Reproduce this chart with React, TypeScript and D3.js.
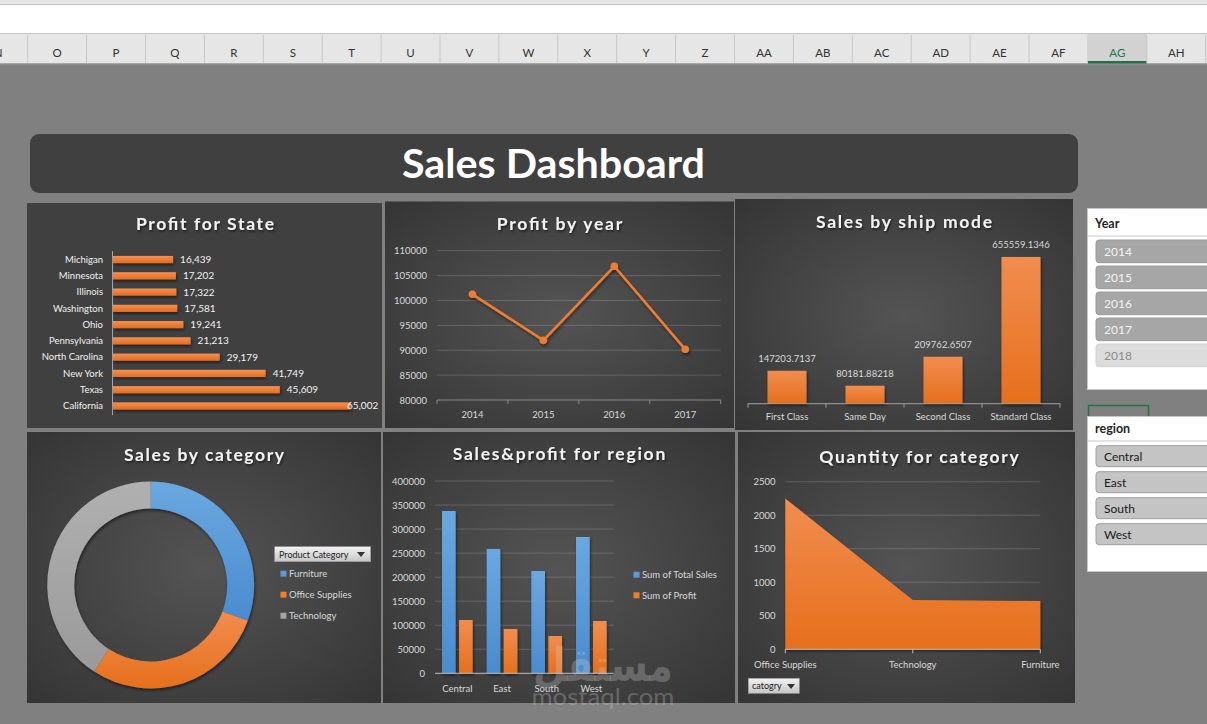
import React from 'react';
import * as d3 from 'd3';

// ---------- data ----------
const columnLetters = ['N','O','P','Q','R','S','T','U','V','W','X','Y','Z','AA','AB','AC','AD','AE','AF','AG','AH'];
const selectedColumn = 'AG';

const states = ['Michigan','Minnesota','Illinois','Washington','Ohio','Pennsylvania','North Carolina','New York','Texas','California'];
const stateProfit = [16439, 17202, 17322, 17581, 19241, 21213, 29179, 41749, 45609, 65002];

const years = ['2014','2015','2016','2017'];
const yearProfit = [101240, 91990, 106870, 90190];
const yearTicks = [80000, 85000, 90000, 95000, 100000, 105000, 110000];

const shipModes = ['First Class','Same Day','Second Class','Standard Class'];
const shipSales = [147203.7137, 80181.88218, 209762.6507, 655559.1346];

const categories = ['Furniture','Office Supplies','Technology'];
const categorySales = [334400, 312500, 445800];

const regions = ['Central','East','South','West'];
const regionSales = [337600, 258600, 212800, 283500];
const regionProfit = [110900, 92200, 77600, 108800];
const regionTicks = [0, 50000, 100000, 150000, 200000, 250000, 300000, 350000, 400000];
const regionSeries = ['Sum of Total Sales','Sum of Profit'];

const qtyCategories = ['Office Supplies','Technology','Furniture'];
const qtyValues = [2250, 735, 720];
const qtyTicks = [0, 500, 1000, 1500, 2000, 2500];

const yearSlicer = ['2014','2015','2016','2017','2018'];
const yearSlicerActive = [true, true, true, true, false];

// ---------- styles ----------
const FONT = 'Lato, "Open Sans", sans-serif';
const AX = '#d9d9d9';
const GRID = 'rgba(255,255,255,0.17)';
const ORANGE = '#ED7D31';
const BLUE = '#5B9BD5';
const GRAY = '#A5A5A5';

function Title({ x, y, text, len, size = 17.5 }: { x: number; y: number; text: string; len: number; size?: number }) {
  return (
    <text x={x} y={y} textAnchor="middle" fontFamily={FONT} fontWeight={700} fontSize={size}
      fill="#f2f2f2" textLength={len} lengthAdjust="spacing" filter="url(#tshadow)">{text}</text>
  );
}

function Panel({ x, y, w, h, flat }: { x: number; y: number; w: number; h: number; flat?: boolean }) {
  return <rect x={x} y={y} width={w} height={h} fill={flat ? '#404040' : 'url(#pbg)'} />;
}

export default function App() {
  // Panel 1: Profit for State
  const p1x = d3.scaleLinear().domain([0, 70000]).range([113, 369]);
  const p1y = d3.scaleBand().domain(states).range([251.4, 414.1]);

  // Panel 2: Profit by year
  const p2x = d3.scaleBand().domain(years).range([437, 720.7]);
  const p2y = d3.scaleLinear().domain([80000, 110000]).range([400, 250.7]);
  const p2line = d3.line<number>().x((_, i) => (p2x(years[i]) as number) + p2x.bandwidth() / 2).y(d => p2y(d));
  const p2edges = [...years.map(y => p2x(y) as number), 720.7];

  // Panel 3: Sales by ship mode
  const p3x = d3.scaleBand().domain(shipModes).range([748, 1060]);
  const p3y = d3.scaleLinear().domain([0, 700000]).range([403.7, 247]);
  const p3edges = [...shipModes.map(m => p3x(m) as number), 1060];
  const p3bw = p3x.bandwidth() * 0.5;

  // Panel 4: donut
  const cx4 = 150.7, cy4 = 585;
  const pie = d3.pie<number>().sort(null).value(d => d)(categorySales);
  const arc = d3.arc<d3.PieArcDatum<number>>().innerRadius(76.5).outerRadius(103.4);
  const catColors = [BLUE, ORANGE, GRAY];
  const catGrads = ['url(#gBlue)', 'url(#gOrange)', 'url(#gGray)'];

  // Panel 5: Sales & profit for region
  const p5x = d3.scaleBand().domain(regions).range([435, 613.7]);
  const p5in = d3.scaleBand().domain(['sales', 'profit']).range([7, p5x.bandwidth() - 7]).paddingInner(0.2);
  const p5y = d3.scaleLinear().domain([0, 400000]).range([673.3, 481]);

  // Panel 6: Quantity for category
  const p6x = d3.scalePoint().domain(qtyCategories).range([785.3, 1040.3]);
  const p6y = d3.scaleLinear().domain([0, 2500]).range([649.3, 481.7]);
  const p6area = d3.area<number>().x((_, i) => p6x(qtyCategories[i]) as number).y0(p6y(0)).y1(d => p6y(d));

  const colW = 58.9, colStart = -1.75;

  return (
    <svg width={1207} height={724} style={{ position: 'absolute', left: 0, top: 0, display: 'block' }}>
      <defs>
        <radialGradient id="pbg" cx="50%" cy="50%" r="70%">
          <stop offset="0%" stopColor="#545454" />
          <stop offset="100%" stopColor="#353535" />
        </radialGradient>
        <linearGradient id="gOrange" x1="0" y1="0" x2="0" y2="1">
          <stop offset="0%" stopColor="#F18D50" />
          <stop offset="100%" stopColor="#E66F1C" />
        </linearGradient>
        <linearGradient id="gOrangeH" x1="0" y1="0" x2="0" y2="1">
          <stop offset="0%" stopColor="#F39056" />
          <stop offset="100%" stopColor="#E56C1A" />
        </linearGradient>
        <linearGradient id="gBlue" x1="0" y1="0" x2="0" y2="1">
          <stop offset="0%" stopColor="#6AA8E0" />
          <stop offset="100%" stopColor="#4A8BCF" />
        </linearGradient>
        <linearGradient id="gGray" x1="0" y1="0" x2="0" y2="1">
          <stop offset="0%" stopColor="#B0B0B0" />
          <stop offset="100%" stopColor="#9A9A9A" />
        </linearGradient>
        <linearGradient id="gBtn" x1="0" y1="0" x2="0" y2="1">
          <stop offset="0%" stopColor="#f2f2f2" />
          <stop offset="100%" stopColor="#c6c6c6" />
        </linearGradient>
        <filter id="tshadow" x="-10%" y="-30%" width="120%" height="160%">
          <feDropShadow dx="1" dy="1.5" stdDeviation="1" floodColor="#000" floodOpacity="0.6" />
        </filter>
        <filter id="mshadow" x="-20%" y="-20%" width="140%" height="160%">
          <feDropShadow dx="1" dy="2" stdDeviation="1.5" floodColor="#000" floodOpacity="0.5" />
        </filter>
      </defs>

      {/* Spreadsheet chrome */}
      <rect x={0} y={0} width={1207} height={724} fill="#808080" />
      <rect x={0} y={0} width={1207} height={5} fill="#e6e6e6" />
      <rect x={0} y={5} width={1207} height={28} fill="#ffffff" />
      <line x1={0} x2={1207} y1={4.5} y2={4.5} stroke="#c4c4c4" />
      <line x1={0} x2={1207} y1={33.5} y2={33.5} stroke="#c4c4c4" />
      <rect x={0} y={34} width={1207} height={29.5} fill="#e6e6e6" />
      {columnLetters.map((c, i) => {
        const cx = colStart + colW * i;
        return (
          <g key={c}>
            {c === selectedColumn && <rect x={cx - colW / 2} y={34} width={colW} height={29.5} fill="#d2d2d2" />}
            {c === selectedColumn && <rect x={cx - colW / 2} y={61} width={colW} height={3} fill="#217346" />}
            <line x1={cx + colW / 2} x2={cx + colW / 2} y1={35} y2={63} stroke="#c6c6c6" />
            <text x={cx} y={57} textAnchor="middle" fontFamily={FONT} fontSize={11.5} fill={c === selectedColumn ? '#217346' : '#333'}>{c}</text>
          </g>
        );
      })}
      <line x1={0} x2={1207} y1={64} y2={64} stroke="#9a9a9a" />

      {/* Title bar */}
      <rect x={30} y={134} width={1048} height={59} rx={9} fill="#404040" />
      <text x={553.5} y={178} textAnchor="middle" fontFamily={FONT} fontWeight={700} fontSize={41}
        fill="#ffffff" textLength={303} lengthAdjust="spacingAndGlyphs">Sales Dashboard</text>

      {/* Panel 1: Profit for State */}
      <Panel x={27} y={203} w={355} h={225} flat />
      <Title x={205} y={230} text="Profit for State" len={138} />
      <line x1={112.5} x2={112.5} y1={251} y2={415} stroke="#a6a6a6" />
      {states.map((s, i) => {
        const cy = (p1y(s) as number) + p1y.bandwidth() / 2;
        const v = stateProfit[i];
        return (
          <g key={s}>
            <rect x={113} y={cy - 3.6} width={p1x(v) - 113} height={7.2} fill="url(#gOrangeH)" filter="url(#mshadow)" />
            <text x={103} y={cy + 3.3} textAnchor="end" fontFamily={FONT} fontSize={9.5} fill="#f2f2f2">{s}</text>
            <text x={Math.min(p1x(v) + 7, 347)} y={cy + 3.5} fontFamily={FONT} fontSize={10} fill="#f2f2f2">{d3.format(',')(v)}</text>
          </g>
        );
      })}

      {/* Panel 2: Profit by year */}
      <Panel x={385} y={201.5} w={349} h={226.5} />
      <Title x={559.5} y={230} text="Profit by year" len={125.6} />
      {yearTicks.map(t => (
        <g key={t}>
          {t !== 80000 && <line x1={437} x2={720.7} y1={p2y(t)} y2={p2y(t)} stroke={GRID} />}
          <text x={427} y={p2y(t) + 3.5} textAnchor="end" fontFamily={FONT} fontSize={9.5} fill={AX}>{t}</text>
        </g>
      ))}
      <line x1={437} x2={720.7} y1={400} y2={400} stroke="#8c8c8c" />
      {p2edges.map((e, i) => <line key={i} x1={e} x2={e} y1={400} y2={404} stroke="#8c8c8c" />)}
      {years.map(y => (
        <text key={y} x={(p2x(y) as number) + p2x.bandwidth() / 2} y={418} textAnchor="middle" fontFamily={FONT} fontSize={9.5} fill={AX}>{y}</text>
      ))}
      <g filter="url(#mshadow)">
        <path d={p2line(yearProfit) as string} fill="none" stroke={ORANGE} strokeWidth={2.6} strokeLinejoin="round" />
        {yearProfit.map((v, i) => (
          <circle key={i} cx={(p2x(years[i]) as number) + p2x.bandwidth() / 2} cy={p2y(v)} r={3.8} fill={ORANGE} />
        ))}
      </g>

      {/* Panel 3: Sales by ship mode */}
      <Panel x={735} y={199} w={338} h={231} />
      <Title x={904} y={227.5} text="Sales by ship mode" len={176} />
      {shipModes.map((m, i) => {
        const cx = (p3x(m) as number) + p3x.bandwidth() / 2;
        const v = shipSales[i];
        return (
          <g key={m}>
            <rect x={cx - p3bw / 2} y={p3y(v)} width={p3bw} height={p3y(0) - p3y(v)} fill="url(#gOrange)" filter="url(#mshadow)" />
            <text x={cx} y={p3y(v) - 9} textAnchor="middle" fontFamily={FONT} fontSize={9.5} fill={AX}>{String(v)}</text>
            <text x={cx} y={420} textAnchor="middle" fontFamily={FONT} fontSize={9.5} fill={AX}>{m}</text>
          </g>
        );
      })}
      <line x1={748} x2={1060} y1={403.7} y2={403.7} stroke="#a0a0a0" />
      {p3edges.map((e, i) => <line key={i} x1={e} x2={e} y1={403.7} y2={407.7} stroke="#a0a0a0" />)}

      {/* Panel 4: Sales by category */}
      <Panel x={27} y={432} w={354} h={271} />
      <Title x={204} y={460.5} text="Sales by category" len={160} />
      <g transform={`translate(${cx4},${cy4})`} filter="url(#mshadow)">
        {pie.map((p, i) => (
          <path key={categories[i]} d={arc(p) as string} fill={catGrads[i]} />
        ))}
      </g>
      <rect x={274.7} y={546.7} width={96} height={15} fill="url(#gBtn)" stroke="#9a9a9a" strokeWidth={0.6} />
      <text x={279} y={557.5} fontFamily={FONT} fontSize={9} fill="#222">Product Category</text>
      <path d="M357,552 L365,552 L361,557 Z" fill="#333" />
      {categories.map((c, i) => (
        <g key={c}>
          <rect x={280.5} y={570.7 + i * 21} width={6} height={6} fill={catColors[i]} />
          <text x={289} y={577.3 + i * 21} fontFamily={FONT} fontSize={9.5} fill={AX}>{c}</text>
        </g>
      ))}

      {/* Panel 5: Sales & profit for region */}
      <Panel x={383} y={432} w={352} h={271} />
      <Title x={559} y={460} text="Sales&profit for region" len={212.6} />
      {regionTicks.map(t => (
        <g key={t}>
          {t !== 0 && <line x1={435} x2={613.7} y1={p5y(t)} y2={p5y(t)} stroke={GRID} />}
          <text x={425} y={p5y(t) + 3.5} textAnchor="end" fontFamily={FONT} fontSize={9.5} fill={AX}>{t}</text>
        </g>
      ))}
      {regions.map((r, i) => {
        const bx = p5x(r) as number;
        return (
          <g key={r}>
            <rect x={bx + (p5in('sales') as number)} y={p5y(regionSales[i])} width={p5in.bandwidth()} height={p5y(0) - p5y(regionSales[i])} fill="url(#gBlue)" filter="url(#mshadow)" />
            <rect x={bx + (p5in('profit') as number)} y={p5y(regionProfit[i])} width={p5in.bandwidth()} height={p5y(0) - p5y(regionProfit[i])} fill="url(#gOrange)" filter="url(#mshadow)" />
            <text x={bx + p5x.bandwidth() / 2} y={692} textAnchor="middle" fontFamily={FONT} fontSize={9.5} fill={AX}>{r}</text>
          </g>
        );
      })}
      <line x1={435} x2={613.7} y1={673.3} y2={673.3} stroke="#bfbfbf" />
      {regionSeries.map((s, i) => (
        <g key={s}>
          <rect x={633.5} y={571.7 + i * 20.6} width={6} height={6} fill={i === 0 ? BLUE : ORANGE} />
          <text x={642} y={578.3 + i * 20.6} fontFamily={FONT} fontSize={9.5} fill={AX}>{s}</text>
        </g>
      ))}

      {/* Panel 6: Quantity for category */}
      <Panel x={738} y={432} w={337} h={271} />
      <Title x={919} y={463.3} text="Quantity for category" len={199.4} />
      {qtyTicks.map(t => (
        <g key={t}>
          {t !== 0 && <line x1={785.3} x2={1040.3} y1={p6y(t)} y2={p6y(t)} stroke={GRID} />}
          <text x={775.5} y={p6y(t) + 3.5} textAnchor="end" fontFamily={FONT} fontSize={9.5} fill={AX}>{t}</text>
        </g>
      ))}
      <path d={p6area(qtyValues) as string} fill="url(#gOrange)" filter="url(#mshadow)" />
      <line x1={785.3} x2={1040.3} y1={649.3} y2={649.3} stroke="#bfbfbf" />
      {qtyCategories.map(c => (
        <g key={c}>
          <line x1={p6x(c) as number} x2={p6x(c) as number} y1={649.3} y2={653.3} stroke="#bfbfbf" />
          <text x={p6x(c) as number} y={668} textAnchor="middle" fontFamily={FONT} fontSize={9.5} fill={AX}>{c}</text>
        </g>
      ))}
      <rect x={748.3} y={678.3} width={51} height={15} fill="url(#gBtn)" stroke="#9a9a9a" strokeWidth={0.6} />
      <text x={752} y={689} fontFamily={FONT} fontSize={9} fill="#222">catogry</text>
      <path d="M787,684 L795,684 L791,689 Z" fill="#333" />

      {/* Watermark */}
      <text x={603} y={681} textAnchor="middle" fontFamily='"DejaVu Sans", sans-serif' fontWeight={700} fontSize={46}
        fill="#d0d0d0" fillOpacity={0.28} textLength={140} lengthAdjust="spacingAndGlyphs">مستقل</text>
      <text x={603} y={705} textAnchor="middle" fontFamily={FONT} fontSize={24} fill="#d0d0d0" fillOpacity={0.3}
        textLength={143} lengthAdjust="spacingAndGlyphs">mostaql.com</text>

      {/* Year slicer */}
      <rect x={1087.5} y={208.5} width={130} height={181} fill="#ffffff" stroke="#c8c8c8" />
      <text x={1095} y={228} fontFamily={FONT} fontWeight={700} fontSize={12.5} fill="#1f1f1f">Year</text>
      <line x1={1088} x2={1207} y1={236} y2={236} stroke="#c8c8c8" />
      {yearSlicer.map((y, i) => (
        <g key={y}>
          <rect x={1096} y={240 + i * 26} width={130} height={22.7} rx={3} fill={yearSlicerActive[i] ? '#a6a6a6' : '#dcdcdc'} stroke={yearSlicerActive[i] ? '#9a9a9a' : '#d0d0d0'} />
          <text x={1104} y={256 + i * 26} fontFamily={FONT} fontSize={12} fill={yearSlicerActive[i] ? '#f4f4f4' : '#8a8a8a'}>{y}</text>
        </g>
      ))}

      {/* Selected cell */}
      <rect x={1088.5} y={405.5} width={60} height={14} fill="#808080" stroke="#217346" strokeWidth={1.5} />

      {/* Region slicer */}
      <rect x={1087.5} y={416.5} width={130} height={155} fill="#ffffff" stroke="#c8c8c8" />
      <text x={1095} y={433} fontFamily={FONT} fontWeight={700} fontSize={12.5} fill="#1f1f1f">region</text>
      <line x1={1088} x2={1207} y1={441} y2={441} stroke="#c8c8c8" />
      {regions.map((r, i) => (
        <g key={r}>
          <rect x={1096} y={445.7 + i * 26} width={130} height={21} rx={3} fill="#c4c4c4" stroke="#9e9e9e" />
          <text x={1104} y={460.5 + i * 26} fontFamily={FONT} fontSize={12} fill="#1a1a1a">{r}</text>
        </g>
      ))}
    </svg>
  );
}
